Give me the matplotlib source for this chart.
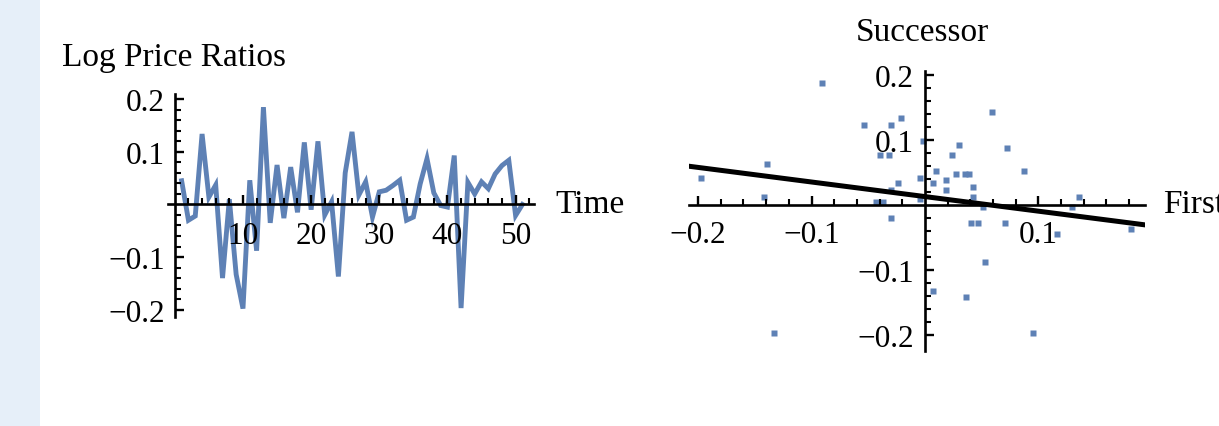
import matplotlib
matplotlib.use("Agg")
import matplotlib.pyplot as plt
import numpy as np
from matplotlib.patches import Rectangle

# ---- data ----
time_index = list(range(1, 52))
log_price_ratios = [0.045, -0.030, -0.022, 0.134, 0.014, 0.037, -0.140, 0.010, -0.133, -0.198,
                    0.046, -0.088, 0.185, -0.035, 0.075, -0.026, 0.071, -0.015, 0.118, -0.010,
                    0.120, -0.020, 0.005, -0.137, 0.060, 0.138, 0.018, 0.043, -0.024, 0.024,
                    0.027, 0.036, 0.046, -0.030, -0.024, 0.039, 0.087, 0.022, -0.002, -0.005,
                    0.093, -0.197, 0.042, 0.020, 0.043, 0.030, 0.058, 0.074, 0.084, -0.021, 0.000]

first_vals = [-0.0905, -0.139, -0.197, -0.142, -0.133, -0.0535, -0.030, -0.021, -0.040, -0.032,
              -0.002, 0.059, 0.030, 0.024, 0.010, -0.004, 0.027, 0.035, 0.039, 0.007,
              0.0185, 0.0185, -0.024, -0.030, 0.042, 0.042, -0.037, -0.043, -0.004, 0.051,
              -0.030, 0.041, 0.047, 0.053, 0.007, 0.036, 0.0725, 0.087, 0.136, 0.130,
              0.0705, 0.116, 0.182, 0.095]
successor_vals = [0.187, 0.063, 0.042, 0.012, -0.198, 0.123, 0.123, 0.133, 0.077, 0.077,
                  0.0975, 0.143, 0.092, 0.077, 0.052, 0.042, 0.047, 0.047, 0.047, 0.033,
                  0.038, 0.0226, 0.033, 0.0226, 0.0267, 0.0123, 0.005, 0.005, 0.009, -0.004,
                  -0.0205, -0.028, -0.028, -0.088, -0.133, -0.1425, 0.087, 0.052, 0.012, -0.004,
                  -0.028, -0.045, -0.037, -0.198]

fit_slope = -0.2245
fit_intercept = 0.0127
fit_x_range = [-0.211, 0.194]

line_xticks = [10, 20, 30, 40, 50]
line_yticks = [-0.2, -0.1, 0.1, 0.2]
scatter_xticks = [-0.2, -0.1, 0.1]
scatter_yticks = [-0.2, -0.1, 0.1, 0.2]

# ---- style ----
W, H = 1219, 427
BLUE = "#5E81B5"
FONT = "Liberation Serif"
TICK_FS = 22.5
LABEL_FS = 24

fig = plt.figure(figsize=(W / 100, H / 100), dpi=100)
fig.patch.set_facecolor("white")
fig.patches.append(Rectangle((0, 0), 40 / W, 1, transform=fig.transFigure,
                             facecolor="#E6EFF9", edgecolor="none", zorder=0))


def px_rect(x0, y_top, x1, y_bot):
    return [x0 / W, 1 - y_bot / H, (x1 - x0) / W, (y_bot - y_top) / H]


def style_axes(ax, xmajor, xminor, ymajor, yminor, xpad, ypad):
    ax.set_facecolor("none")
    for s in ("top", "right"):
        ax.spines[s].set_visible(False)
    for s in ("left", "bottom"):
        ax.spines[s].set_position(("data", 0))
        ax.spines[s].set_linewidth(1.9)
        ax.spines[s].set_color("black")
    ax.set_xticks(xmajor)
    ax.set_xticks(xminor, minor=True)
    ax.set_yticks(ymajor)
    ax.set_yticks(yminor, minor=True)
    ax.tick_params(which="major", direction="in", length=6.5, width=1.7, color="black")
    ax.tick_params(which="minor", direction="in", length=4, width=1.5, color="black")
    ax.tick_params(axis="x", which="major", pad=xpad, labelsize=TICK_FS)
    ax.tick_params(axis="y", which="major", pad=ypad, labelsize=TICK_FS)


# ---- left: line plot ----
ax1 = fig.add_axes(px_rect(168, 95, 534, 318))
ax1.plot(time_index, log_price_ratios, color=BLUE, lw=3.5, solid_joinstyle="miter", zorder=1)
ax1.set_xlim(-1, 52.7)
ax1.set_ylim(-0.214, 0.21)
xminor1 = [v for v in range(2, 53, 2) if v % 10 != 0]
grid = [round(v, 2) for v in np.arange(-0.2, 0.21, 0.02)]
yminor = [v for v in grid if abs(v) > 1e-9 and abs(v * 10 - round(v * 10)) > 1e-6]
style_axes(ax1, line_xticks, xminor1, line_yticks, yminor, xpad=12, ypad=7)
ax1.set_xticklabels([str(v) for v in line_xticks], fontfamily=FONT, fontsize=TICK_FS)
ax1.set_yticklabels(["\u22120.2", "\u22120.1", "0.1", "0.2"], fontfamily=FONT, fontsize=TICK_FS)

fig.text(62 / W, 1 - 58 / H, "Log Price Ratios", fontfamily=FONT, fontsize=LABEL_FS,
         ha="left", va="center")
fig.text(555 / W, 1 - 205 / H, "Time", fontfamily=FONT, fontsize=LABEL_FS,
         ha="left", va="center")

# ---- right: scatter ----
ax2 = fig.add_axes(px_rect(689, 72, 1145, 352))
ax2.plot(first_vals, successor_vals, linestyle="none", marker="s", ms=4.8,
         mfc=BLUE, mec="none", zorder=1)
fx = np.array(fit_x_range)
ax2.plot(fx, fit_intercept + fit_slope * fx, color="black", lw=3.6, zorder=2)
ax2.set_xlim(-0.208, 0.194)
ax2.set_ylim(-0.225, 0.206)
style_axes(ax2, scatter_xticks, yminor, scatter_yticks, yminor, xpad=11, ypad=8)
ax2.set_xticklabels(["\u22120.2", "\u22120.1", "0.1"], fontfamily=FONT, fontsize=TICK_FS)
ax2.set_yticklabels(["\u22120.2", "\u22120.1", "0.1", "0.2"], fontfamily=FONT, fontsize=TICK_FS)

fig.text(922 / W, 1 - 33 / H, "Successor", fontfamily=FONT, fontsize=LABEL_FS,
         ha="center", va="center")
fig.text(1163 / W, 1 - 205 / H, "First", fontfamily=FONT, fontsize=LABEL_FS,
         ha="left", va="center")

fig.savefig("out.png", dpi=100)
